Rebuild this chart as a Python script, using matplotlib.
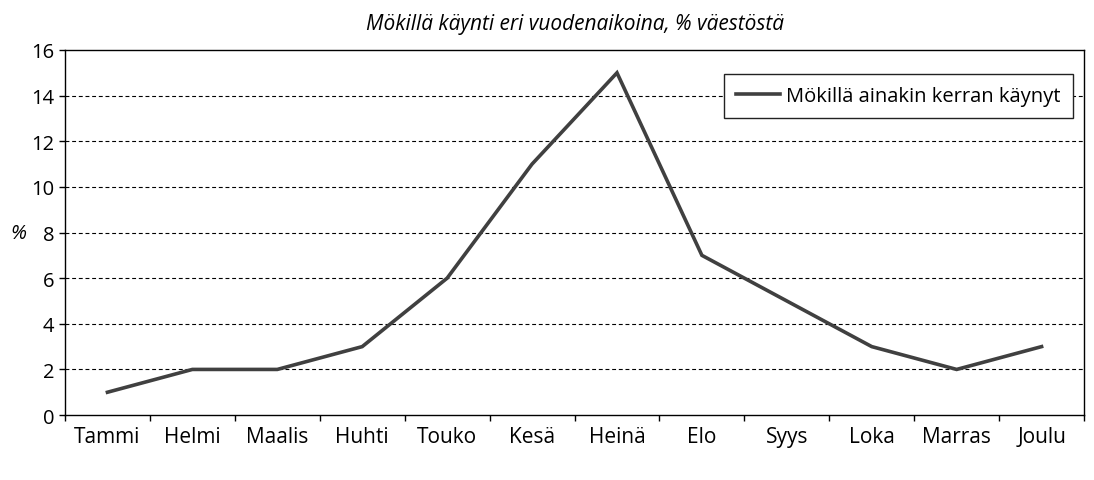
import numpy as np
import matplotlib.pyplot as plt

plt.rcParams['font.family'] = ['Open Sans', 'DejaVu Sans']

months = ["Tammi", "Helmi", "Maalis", "Huhti", "Touko", "Kesä",
          "Heinä", "Elo", "Syys", "Loka", "Marras", "Joulu"]
visited = [1, 2, 2, 3, 6, 11, 15, 7, 5, 3, 2, 3]
yticks = [0, 2, 4, 6, 8, 10, 12, 14, 16]

fig = plt.figure(figsize=(10.94, 4.81), dpi=100)
ax = fig.add_axes([0.0594, 0.135, 0.9315, 0.759])

x = np.arange(len(months))
ax.plot(x, visited, color='#404040', linewidth=2.6, solid_joinstyle='miter',
        label='Mökillä ainakin kerran käynyt', zorder=3)

ax.set_xlim(-0.5, len(months) - 0.5)
ax.set_ylim(0, 16)
ax.set_yticks(yticks)
ax.set_xticks(x)
ax.set_xticklabels(months, fontsize=15)
ax.set_xticks(np.arange(len(months) + 1) - 0.5, minor=True)
ax.tick_params(axis='x', which='major', length=0, pad=8)
ax.tick_params(axis='x', which='minor', length=4.5, width=1, direction='out')
ax.tick_params(axis='y', length=4.5, width=1, direction='out', labelsize=14.5, pad=3)

for y in yticks[1:-1]:
    ax.axhline(y, color='black', linestyle=(0, (3.5, 2.5)), linewidth=0.8, zorder=1)

for s in ax.spines.values():
    s.set_linewidth(1)
    s.set_color('black')

ax.set_ylabel('%', rotation=0, fontsize=14.5, style='italic', va='center', ha='center')
ax.yaxis.set_label_coords(-0.046, 0.5)

ax.set_title('Mökillä käynti eri vuodenaikoina, % väestöstä', fontsize=15,
             style='italic', pad=15)

leg = ax.legend(loc='upper right', bbox_to_anchor=(0.989, 0.934), fontsize=14.5,
                fancybox=False, framealpha=1, edgecolor='#222222',
                handlelength=2.2, handletextpad=0.3, borderpad=0.6,
                borderaxespad=0)
leg.get_frame().set_linewidth(1)

fig.savefig('out.png', dpi=100)
